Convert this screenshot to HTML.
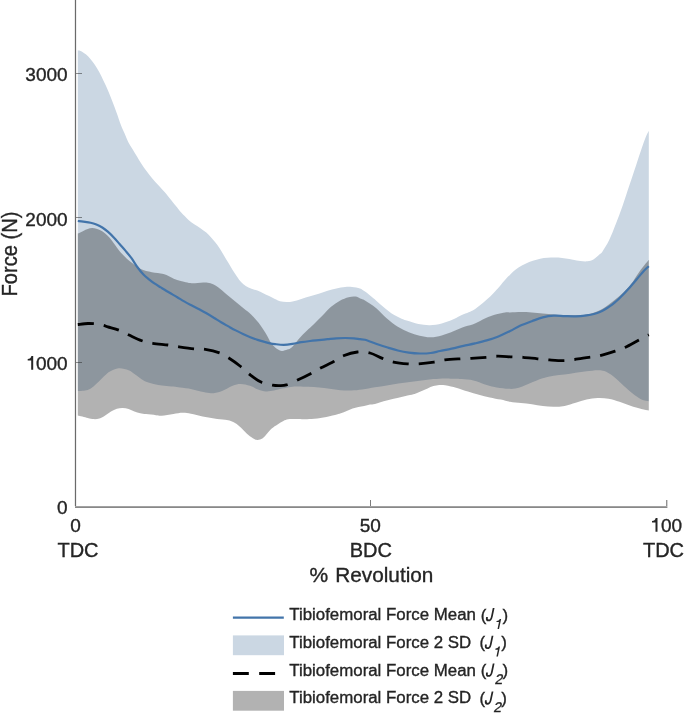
<!DOCTYPE html>
<html><head><meta charset="utf-8"><style>
html,body{margin:0;padding:0;background:#fff;}
body{width:685px;height:713px;overflow:hidden;font-family:"Liberation Sans",sans-serif;}
svg{display:block;will-change:transform;}
</style></head><body>
<svg width="685" height="713" viewBox="0 0 685 713">
<path d="M77.80 50.30C78.45 50.48 80.32 50.68 81.70 51.40C83.08 52.12 84.65 53.33 86.10 54.60C87.55 55.87 88.95 57.30 90.40 59.00C91.85 60.70 93.33 62.62 94.80 64.80C96.27 66.98 97.73 69.42 99.20 72.10C100.67 74.78 102.13 77.85 103.60 80.90C105.07 83.95 106.55 87.00 108.00 90.40C109.45 93.80 110.85 97.53 112.30 101.30C113.75 105.07 115.27 109.05 116.70 113.00C118.13 116.95 119.58 121.57 120.90 125.00C122.22 128.43 123.38 130.78 124.60 133.60C125.82 136.42 126.87 139.30 128.20 141.90C129.53 144.50 131.13 146.77 132.60 149.20C134.07 151.63 135.53 154.07 137.00 156.50C138.47 158.93 139.82 161.37 141.40 163.80C142.98 166.23 144.68 168.67 146.50 171.10C148.32 173.53 150.23 175.97 152.30 178.40C154.37 180.83 156.70 183.27 158.90 185.70C161.10 188.13 163.43 190.57 165.50 193.00C167.57 195.43 169.35 197.87 171.30 200.30C173.25 202.73 175.75 205.78 177.20 207.60C178.65 209.42 178.80 209.83 180.00 211.20C181.20 212.57 182.93 214.30 184.40 215.80C185.87 217.30 187.10 218.73 188.80 220.20C190.50 221.67 192.67 223.27 194.60 224.60C196.53 225.93 198.45 226.87 200.40 228.20C202.35 229.53 204.58 231.13 206.30 232.60C208.02 234.07 209.25 235.42 210.70 237.00C212.15 238.58 213.55 240.27 215.00 242.10C216.45 243.93 217.93 245.80 219.40 248.00C220.87 250.20 222.33 252.87 223.80 255.30C225.27 257.73 226.73 260.17 228.20 262.60C229.67 265.03 231.15 267.60 232.60 269.90C234.05 272.20 235.45 274.33 236.90 276.40C238.35 278.47 239.83 280.72 241.30 282.30C242.77 283.88 244.00 284.82 245.70 285.90C247.40 286.98 249.55 288.02 251.50 288.80C253.45 289.58 255.45 289.87 257.40 290.60C259.35 291.33 261.25 292.28 263.20 293.20C265.15 294.12 267.15 295.12 269.10 296.10C271.05 297.08 273.08 298.25 274.90 299.10C276.72 299.95 278.07 300.72 280.00 301.20C281.93 301.68 284.40 301.95 286.50 302.00C288.60 302.05 290.13 302.02 292.60 301.50C295.07 300.98 298.38 299.77 301.30 298.90C304.22 298.03 307.18 297.17 310.10 296.30C313.02 295.43 315.88 294.63 318.80 293.70C321.72 292.77 324.67 291.58 327.60 290.70C330.53 289.82 333.48 289.02 336.40 288.40C339.32 287.78 342.48 287.23 345.10 287.00C347.72 286.77 349.62 286.77 352.10 287.00C354.58 287.23 357.85 287.63 360.00 288.40C362.15 289.17 362.33 289.60 365.00 291.60C367.67 293.60 373.07 297.95 376.00 300.40C378.93 302.85 380.53 304.55 382.60 306.30C384.67 308.05 386.47 309.45 388.40 310.90C390.33 312.35 392.25 313.82 394.20 315.00C396.15 316.18 398.02 317.07 400.10 318.00C402.18 318.93 403.65 319.60 406.70 320.60C409.75 321.60 414.52 323.23 418.40 324.00C422.28 324.77 426.12 325.30 430.00 325.20C433.88 325.10 437.80 324.40 441.70 323.40C445.60 322.40 449.77 320.72 453.40 319.20C457.03 317.68 460.72 315.55 463.50 314.30C466.28 313.05 468.15 312.58 470.10 311.70C472.05 310.82 473.50 310.10 475.20 309.00C476.90 307.90 478.60 306.48 480.30 305.10C482.00 303.72 483.70 302.18 485.40 300.70C487.10 299.22 488.78 297.87 490.50 296.20C492.22 294.53 494.12 292.42 495.70 290.70C497.28 288.98 498.42 287.73 500.00 285.90C501.58 284.07 503.48 281.60 505.20 279.70C506.92 277.80 508.60 276.17 510.30 274.50C512.00 272.83 513.47 271.18 515.40 269.70C517.33 268.22 519.60 266.87 521.90 265.60C524.20 264.33 526.77 263.08 529.20 262.10C531.63 261.12 534.07 260.40 536.50 259.70C538.93 259.00 541.37 258.28 543.80 257.90C546.23 257.52 548.67 257.45 551.10 257.40C553.53 257.35 555.97 257.40 558.40 257.60C560.83 257.80 563.27 258.23 565.70 258.60C568.13 258.97 570.57 259.38 573.00 259.80C575.43 260.22 577.87 260.85 580.30 261.10C582.73 261.35 585.42 261.57 587.60 261.30C589.78 261.03 591.33 260.70 593.40 259.50C595.47 258.30 598.48 255.43 600.00 254.10C601.52 252.77 600.97 253.85 602.50 251.50C604.03 249.15 606.95 244.68 609.20 240.00C611.45 235.32 613.75 229.17 616.00 223.40C618.25 217.63 620.47 211.77 622.70 205.40C624.93 199.03 627.15 191.95 629.40 185.20C631.65 178.45 634.13 171.08 636.20 164.90C638.27 158.72 640.25 152.62 641.80 148.10C643.35 143.58 644.33 140.68 645.50 137.80C646.67 134.92 648.25 131.97 648.80 130.80L648.80 401.30C647.57 401.02 644.10 400.88 641.40 399.60C638.70 398.32 635.52 395.87 632.60 393.60C629.68 391.33 627.18 388.92 623.90 386.00C620.62 383.08 616.18 378.58 612.90 376.10C609.62 373.62 606.75 372.08 604.20 371.10C601.65 370.12 600.53 370.17 597.60 370.20C594.67 370.23 590.25 370.87 586.60 371.30C582.95 371.73 579.35 372.25 575.70 372.80C572.05 373.35 568.35 374.12 564.70 374.60C561.05 375.08 557.45 375.10 553.80 375.70C550.15 376.30 546.77 376.95 542.80 378.20C538.83 379.45 533.40 381.83 530.00 383.20C526.60 384.57 524.83 385.52 522.40 386.40C519.97 387.28 517.73 388.10 515.40 388.50C513.07 388.90 511.52 388.97 508.40 388.80C505.28 388.63 500.60 388.23 496.70 387.50C492.80 386.77 488.88 385.57 485.00 384.40C481.12 383.23 477.28 381.38 473.40 380.50C469.52 379.62 464.77 379.38 461.70 379.10C458.63 378.82 457.77 378.92 455.00 378.80C452.23 378.68 448.70 378.35 445.10 378.40C441.50 378.45 437.30 378.75 433.40 379.10C429.50 379.45 425.60 380.02 421.70 380.50C417.80 380.98 413.88 381.52 410.00 382.00C406.12 382.48 402.28 382.83 398.40 383.40C394.52 383.97 390.60 384.75 386.70 385.40C382.80 386.05 379.07 386.62 375.00 387.30C370.93 387.98 366.23 388.97 362.30 389.50C358.37 390.03 355.05 390.38 351.40 390.50C347.75 390.62 344.05 390.50 340.40 390.20C336.75 389.90 333.07 389.15 329.50 388.70C325.93 388.25 322.52 387.82 319.00 387.50C315.48 387.18 311.90 386.98 308.40 386.80C304.90 386.62 300.92 386.38 298.00 386.40C295.08 386.42 293.57 386.53 290.90 386.90C288.23 387.27 284.82 387.98 282.00 388.60C279.18 389.22 276.67 390.12 274.00 390.60C271.33 391.08 268.67 391.67 266.00 391.50C263.33 391.33 260.67 390.55 258.00 389.60C255.33 388.65 252.88 386.75 250.00 385.80C247.12 384.85 243.60 383.92 240.70 383.90C237.80 383.88 235.90 384.43 232.60 385.70C229.30 386.97 224.42 390.23 220.90 391.50C217.38 392.77 214.42 393.20 211.50 393.30C208.58 393.40 206.70 392.78 203.40 392.10C200.10 391.42 195.60 389.95 191.70 389.20C187.80 388.45 183.03 388.03 180.00 387.60C176.97 387.17 176.17 386.92 173.50 386.60C170.83 386.28 166.92 386.03 164.00 385.70C161.08 385.37 158.98 385.27 156.00 384.60C153.02 383.93 148.73 382.77 146.10 381.70C143.47 380.63 142.15 379.47 140.20 378.20C138.25 376.93 136.33 375.43 134.40 374.10C132.47 372.77 131.20 371.17 128.60 370.20C126.00 369.23 121.90 368.10 118.80 368.30C115.70 368.50 112.27 370.23 110.00 371.40C107.73 372.57 106.97 373.68 105.20 375.30C103.43 376.92 101.35 379.25 99.40 381.10C97.45 382.95 95.45 384.93 93.50 386.40C91.55 387.87 90.32 389.13 87.70 389.90C85.08 390.67 79.45 390.82 77.80 391.00Z" fill="#cbd7e3"/>
<path d="M77.80 233.60C78.72 233.15 81.65 231.67 83.30 230.90C84.95 230.13 86.23 229.48 87.70 229.00C89.17 228.52 90.65 228.05 92.10 228.00C93.55 227.95 94.95 228.30 96.40 228.70C97.85 229.10 99.33 229.62 100.80 230.40C102.27 231.18 103.73 232.18 105.20 233.40C106.67 234.62 108.13 236.00 109.60 237.70C111.07 239.40 112.55 241.65 114.00 243.60C115.45 245.55 116.85 247.58 118.30 249.40C119.75 251.22 121.23 252.92 122.70 254.50C124.17 256.08 125.63 257.55 127.10 258.90C128.57 260.25 129.80 261.27 131.50 262.60C133.20 263.93 135.35 265.68 137.30 266.90C139.25 268.12 141.25 269.12 143.20 269.90C145.15 270.68 147.07 271.12 149.00 271.60C150.93 272.08 152.85 272.48 154.80 272.80C156.75 273.12 158.75 273.13 160.70 273.50C162.65 273.87 164.55 274.27 166.50 275.00C168.45 275.73 170.48 277.02 172.40 277.90C174.32 278.78 175.77 279.57 178.00 280.30C180.23 281.03 183.52 281.80 185.80 282.30C188.08 282.80 189.75 283.18 191.70 283.30C193.65 283.42 195.55 283.12 197.50 283.00C199.45 282.88 201.45 282.60 203.40 282.60C205.35 282.60 207.33 282.62 209.20 283.00C211.07 283.38 212.48 283.70 214.60 284.90C216.72 286.10 219.47 288.25 221.90 290.20C224.33 292.15 226.77 294.53 229.20 296.60C231.63 298.67 234.07 300.60 236.50 302.60C238.93 304.60 241.37 306.62 243.80 308.60C246.23 310.58 248.67 312.17 251.10 314.50C253.53 316.83 255.97 319.48 258.40 322.60C260.83 325.72 263.52 329.70 265.70 333.20C267.88 336.70 269.65 341.00 271.50 343.60C273.35 346.20 275.05 347.58 276.80 348.80C278.55 350.02 280.25 350.77 282.00 350.90C283.75 351.03 285.65 350.22 287.30 349.60C288.95 348.98 289.92 349.07 291.90 347.20C293.88 345.33 296.77 341.10 299.20 338.40C301.63 335.70 304.07 333.37 306.50 331.00C308.93 328.63 311.17 326.73 313.80 324.20C316.43 321.67 319.42 318.70 322.30 315.80C325.18 312.90 328.17 309.32 331.10 306.80C334.03 304.28 336.98 302.30 339.90 300.70C342.82 299.10 345.98 297.88 348.60 297.20C351.22 296.52 353.68 296.40 355.60 296.60C357.52 296.80 358.53 297.77 360.10 298.40C361.67 299.03 362.35 298.80 365.00 300.40C367.65 302.00 372.35 304.98 376.00 308.00C379.65 311.02 383.27 315.37 386.90 318.50C390.53 321.63 394.15 324.52 397.80 326.80C401.45 329.08 405.15 330.70 408.80 332.20C412.45 333.70 416.05 334.95 419.70 335.80C423.35 336.65 427.03 337.37 430.70 337.30C434.37 337.23 437.92 336.42 441.70 335.40C445.48 334.38 449.50 332.67 453.40 331.20C457.30 329.73 461.50 327.90 465.10 326.60C468.70 325.30 471.62 324.80 475.00 323.40C478.38 322.00 481.83 319.73 485.40 318.20C488.97 316.67 493.12 315.17 496.40 314.20C499.68 313.23 502.83 312.70 505.10 312.40C507.37 312.10 507.37 312.47 510.00 312.40C512.63 312.33 517.25 312.00 520.90 312.00C524.55 312.00 528.25 312.15 531.90 312.40C535.55 312.65 539.15 313.13 542.80 313.50C546.45 313.87 550.15 314.30 553.80 314.60C557.45 314.90 561.05 315.18 564.70 315.30C568.35 315.42 572.05 315.42 575.70 315.30C579.35 315.18 582.95 315.27 586.60 314.60C590.25 313.93 593.95 312.95 597.60 311.30C601.25 309.65 604.85 307.25 608.50 304.70C612.15 302.15 615.85 299.28 619.50 296.00C623.15 292.72 627.12 289.02 630.40 285.00C633.68 280.98 636.13 276.10 639.20 271.90C642.27 267.70 647.20 261.82 648.80 259.80L648.80 410.50C647.57 410.25 644.47 409.80 641.40 409.00C638.33 408.20 634.05 406.90 630.40 405.70C626.75 404.50 623.15 402.97 619.50 401.80C615.85 400.63 612.15 399.33 608.50 398.70C604.85 398.07 601.25 397.85 597.60 398.00C593.95 398.15 590.25 398.80 586.60 399.60C582.95 400.40 579.35 401.75 575.70 402.80C572.05 403.85 568.35 405.23 564.70 405.90C561.05 406.57 557.45 406.77 553.80 406.80C550.15 406.83 546.45 406.53 542.80 406.10C539.15 405.67 535.55 404.70 531.90 404.20C528.25 403.70 524.55 403.50 520.90 403.10C517.25 402.70 513.35 402.38 510.00 401.80C506.65 401.22 504.17 400.33 500.80 399.60C497.43 398.87 493.45 398.22 489.80 397.40C486.15 396.58 482.55 395.68 478.90 394.70C475.25 393.72 471.55 392.63 467.90 391.50C464.25 390.37 459.83 388.75 457.00 387.90C454.17 387.05 452.88 386.85 450.90 386.40C448.92 385.95 447.05 385.43 445.10 385.20C443.15 384.97 441.15 384.85 439.20 385.00C437.25 385.15 435.33 385.52 433.40 386.10C431.47 386.68 429.55 387.68 427.60 388.50C425.65 389.32 423.65 390.18 421.70 391.00C419.75 391.82 417.85 392.72 415.90 393.40C413.95 394.08 412.92 394.37 410.00 395.10C407.08 395.83 402.28 396.88 398.40 397.80C394.52 398.72 390.60 399.58 386.70 400.60C382.80 401.62 377.78 403.25 375.00 403.90C372.22 404.55 371.80 404.17 370.00 404.50C368.20 404.83 366.13 405.47 364.20 405.90C362.27 406.33 360.33 406.65 358.40 407.10C356.47 407.55 354.55 407.95 352.60 408.60C350.65 409.25 348.65 410.22 346.70 411.00C344.75 411.78 342.85 412.63 340.90 413.30C338.95 413.97 337.92 414.28 335.00 415.00C332.08 415.72 327.28 416.92 323.40 417.60C319.52 418.28 315.27 418.83 311.70 419.10C308.13 419.37 304.77 419.20 302.00 419.20C299.23 419.20 297.42 419.08 295.10 419.10C292.78 419.12 290.05 418.98 288.10 419.30C286.15 419.62 285.15 420.13 283.40 421.00C281.65 421.87 279.55 423.23 277.60 424.50C275.65 425.77 273.65 426.85 271.70 428.60C269.75 430.35 267.45 433.35 265.90 435.00C264.35 436.65 263.77 437.68 262.40 438.50C261.03 439.32 259.07 439.80 257.70 439.90C256.33 440.00 255.75 439.92 254.20 439.10C252.65 438.28 250.35 436.65 248.40 435.00C246.45 433.35 244.45 431.03 242.50 429.20C240.55 427.37 238.65 425.37 236.70 424.00C234.75 422.63 232.75 421.70 230.80 421.00C228.85 420.30 227.77 420.23 225.00 419.80C222.23 419.37 217.93 418.95 214.20 418.40C210.47 417.85 206.48 417.28 202.60 416.50C198.72 415.72 194.22 414.32 190.90 413.70C187.58 413.08 185.62 412.77 182.70 412.80C179.78 412.83 176.90 413.42 173.40 413.90C169.90 414.38 164.60 415.48 161.70 415.70C158.80 415.92 158.60 415.47 156.00 415.20C153.40 414.93 148.73 414.43 146.10 414.10C143.47 413.77 142.15 413.63 140.20 413.20C138.25 412.77 136.33 412.18 134.40 411.50C132.47 410.82 130.55 409.68 128.60 409.10C126.65 408.52 124.65 408.05 122.70 408.00C120.75 407.95 118.85 408.22 116.90 408.80C114.95 409.38 112.95 410.38 111.00 411.50C109.05 412.62 107.13 414.33 105.20 415.50C103.27 416.67 101.35 417.90 99.40 418.50C97.45 419.10 95.45 419.20 93.50 419.10C91.55 419.00 90.32 418.50 87.70 417.90C85.08 417.30 79.45 415.90 77.80 415.50Z" fill="#000" fill-opacity="0.3"/>
<path d="M77.80 221.00C78.72 221.12 81.17 221.40 83.30 221.70C85.43 222.00 88.42 222.32 90.60 222.80C92.78 223.28 94.45 223.82 96.40 224.60C98.35 225.38 100.35 226.28 102.30 227.50C104.25 228.72 106.15 230.20 108.10 231.90C110.05 233.60 112.05 235.63 114.00 237.70C115.95 239.77 117.87 242.10 119.80 244.30C121.73 246.50 123.65 248.58 125.60 250.90C127.55 253.22 129.55 255.52 131.50 258.20C133.45 260.88 135.35 264.33 137.30 267.00C139.25 269.67 141.25 272.15 143.20 274.20C145.15 276.25 147.07 277.72 149.00 279.30C150.93 280.88 152.85 282.35 154.80 283.70C156.75 285.05 158.75 286.18 160.70 287.40C162.65 288.62 164.55 289.83 166.50 291.00C168.45 292.17 170.60 293.37 172.40 294.40C174.20 295.43 175.27 296.00 177.30 297.20C179.33 298.40 182.17 300.22 184.60 301.60C187.03 302.98 189.47 304.23 191.90 305.50C194.33 306.77 196.77 307.90 199.20 309.20C201.63 310.50 204.07 311.88 206.50 313.30C208.93 314.72 211.37 316.20 213.80 317.70C216.23 319.20 218.67 320.85 221.10 322.30C223.53 323.75 225.97 325.05 228.40 326.40C230.83 327.75 233.27 329.13 235.70 330.40C238.13 331.67 240.57 332.87 243.00 334.00C245.43 335.13 247.87 336.22 250.30 337.20C252.73 338.18 255.17 339.10 257.60 339.90C260.03 340.70 262.83 341.43 264.90 342.00C266.97 342.57 268.32 342.95 270.00 343.30C271.68 343.65 272.70 343.85 275.00 344.10C277.30 344.35 280.87 344.83 283.80 344.80C286.73 344.77 289.68 344.33 292.60 343.90C295.52 343.47 298.38 342.68 301.30 342.20C304.22 341.72 307.18 341.35 310.10 341.00C313.02 340.65 315.88 340.40 318.80 340.10C321.72 339.80 324.67 339.50 327.60 339.20C330.53 338.90 333.48 338.50 336.40 338.30C339.32 338.10 342.18 338.00 345.10 338.00C348.02 338.00 351.42 338.10 353.90 338.30C356.38 338.50 358.15 338.95 360.00 339.20C361.85 339.45 362.33 339.05 365.00 339.80C367.67 340.55 372.35 342.45 376.00 343.70C379.65 344.95 383.27 346.17 386.90 347.30C390.53 348.43 394.15 349.62 397.80 350.50C401.45 351.38 405.15 352.10 408.80 352.60C412.45 353.10 416.05 353.43 419.70 353.50C423.35 353.57 427.32 353.42 430.70 353.00C434.08 352.58 436.50 351.73 440.00 351.00C443.50 350.27 447.80 349.45 451.70 348.60C455.60 347.75 459.52 346.77 463.40 345.90C467.28 345.03 471.12 344.32 475.00 343.40C478.88 342.48 482.80 341.57 486.70 340.40C490.60 339.23 494.50 337.95 498.40 336.40C502.30 334.85 506.50 332.87 510.10 331.10C513.70 329.33 516.37 327.45 520.00 325.80C523.63 324.15 528.10 322.60 531.90 321.20C535.70 319.80 539.15 318.32 542.80 317.40C546.45 316.48 550.15 315.92 553.80 315.70C557.45 315.48 561.05 316.00 564.70 316.10C568.35 316.20 572.05 316.43 575.70 316.30C579.35 316.17 583.40 315.73 586.60 315.30C589.80 314.87 592.70 314.25 594.90 313.70C597.10 313.15 598.17 312.70 599.80 312.00C601.43 311.30 603.07 310.43 604.70 309.50C606.33 308.57 607.95 307.55 609.60 306.40C611.25 305.25 612.95 303.97 614.60 302.60C616.25 301.23 617.87 299.75 619.50 298.20C621.13 296.65 622.77 295.02 624.40 293.30C626.03 291.58 627.67 289.73 629.30 287.90C630.93 286.07 632.57 284.22 634.20 282.30C635.83 280.38 637.47 278.33 639.10 276.40C640.73 274.47 642.38 272.40 644.00 270.70C645.62 269.00 648.00 266.95 648.80 266.20" fill="none" stroke="#4274aa" stroke-width="2.2" stroke-linejoin="round"/>
<path d="M77.80 324.50C79.50 324.33 84.82 323.58 88.00 323.50C91.18 323.42 94.32 323.70 96.90 324.00C99.48 324.30 101.68 324.82 103.50 325.30C105.32 325.78 105.25 326.10 107.80 326.90C110.35 327.70 115.27 328.75 118.80 330.10C122.33 331.45 125.17 333.23 129.00 335.00C132.83 336.77 137.85 339.32 141.80 340.70C145.75 342.08 148.32 342.58 152.70 343.30C157.08 344.02 163.72 344.42 168.10 345.00C172.48 345.58 174.63 346.17 179.00 346.80C183.37 347.43 189.92 348.37 194.30 348.80C198.68 349.23 201.10 348.72 205.30 349.40C209.50 350.08 215.58 351.47 219.50 352.90C223.42 354.33 225.38 355.82 228.80 358.00C232.22 360.18 236.38 363.15 240.00 366.00C243.62 368.85 247.00 372.42 250.50 375.10C254.00 377.78 257.35 380.43 261.00 382.10C264.65 383.77 269.32 384.52 272.40 385.10C275.48 385.68 277.17 385.63 279.50 385.60C281.83 385.57 283.50 385.77 286.40 384.90C289.30 384.03 292.80 382.32 296.90 380.40C301.00 378.48 307.05 375.45 311.00 373.40C314.95 371.35 316.82 370.08 320.60 368.10C324.38 366.12 329.90 363.55 333.70 361.50C337.50 359.45 339.45 357.38 343.40 355.80C347.35 354.22 352.97 352.47 357.40 352.00C361.83 351.53 365.82 351.93 370.00 353.00C374.18 354.07 378.58 356.88 382.50 358.40C386.42 359.92 389.30 361.18 393.50 362.10C397.70 363.02 403.52 363.60 407.70 363.90C411.88 364.20 414.22 364.20 418.60 363.90C422.98 363.60 429.62 362.77 434.00 362.10C438.38 361.43 440.52 360.45 444.90 359.90C449.28 359.35 455.92 359.05 460.30 358.80C464.68 358.55 466.83 358.65 471.20 358.40C475.57 358.15 482.12 357.67 486.50 357.30C490.88 356.93 493.30 356.27 497.50 356.20C501.70 356.13 507.43 356.72 511.70 356.90C515.97 357.08 518.82 356.98 523.10 357.30C527.38 357.62 533.02 358.37 537.40 358.80C541.78 359.23 545.03 359.60 549.40 359.90C553.77 360.20 559.40 360.67 563.60 360.60C567.80 360.53 570.40 360.05 574.60 359.50C578.80 358.95 584.60 357.92 588.80 357.30C593.00 356.68 595.42 356.82 599.80 355.80C604.18 354.78 610.90 352.60 615.10 351.20C619.30 349.80 620.98 349.30 625.00 347.40C629.02 345.50 635.23 341.90 639.20 339.80C643.17 337.70 647.20 335.63 648.80 334.80" fill="none" stroke="#000" stroke-width="2.8" stroke-dasharray="15.9 10.16"/>
<rect x="74" y="0" width="1" height="506" fill="#ebebeb"/>
<rect x="75" y="0" width="1" height="507" fill="#6a6a6a"/>
<rect x="76" y="0" width="1" height="506" fill="#efefef"/>
<rect x="75" y="506" width="592.4" height="1" fill="#a2a2a2"/>
<rect x="75" y="507" width="592.4" height="1" fill="#888888"/>
<rect x="76" y="73" width="6" height="1" fill="#262626" fill-opacity="0.5"/>
<rect x="76" y="217" width="6" height="1" fill="#262626" fill-opacity="0.5"/>
<rect x="76" y="362" width="6" height="1" fill="#262626" fill-opacity="0.5"/>
<rect x="370" y="500" width="1" height="6" fill="#262626" fill-opacity="0.6"/>
<rect x="666" y="500" width="1.4" height="6" fill="#262626" fill-opacity="0.5"/>
<text x="67.6" y="81.1" text-anchor="end" font-family="Liberation Sans, sans-serif" stroke="#1e1e1e" stroke-width="0.35" font-size="19" fill="#262626">3000</text>
<text x="67.6" y="226.0" text-anchor="end" font-family="Liberation Sans, sans-serif" stroke="#1e1e1e" stroke-width="0.35" font-size="19" fill="#262626">2000</text>
<text x="67.6" y="369.8" text-anchor="end" font-family="Liberation Sans, sans-serif" stroke="#1e1e1e" stroke-width="0.35" font-size="19" fill="#262626">000</text>
<text x="67.6" y="514.2" text-anchor="end" font-family="Liberation Sans, sans-serif" stroke="#1e1e1e" stroke-width="0.35" font-size="19" fill="#262626">0</text>
<path d="M33.2 356.1V369.8H31.2V360.6H27.7V359.0C29.7 358.9 31.0 358.0 31.4 356.1Z" fill="#262626"/>
<text x="75.5" y="531.9" text-anchor="middle" font-family="Liberation Sans, sans-serif" stroke="#1e1e1e" stroke-width="0.35" font-size="19" fill="#262626">0</text>
<text x="370.3" y="531.9" text-anchor="middle" font-family="Liberation Sans, sans-serif" stroke="#1e1e1e" stroke-width="0.35" font-size="19" fill="#262626">50</text>
<text x="682.05" y="531.9" text-anchor="end" font-family="Liberation Sans, sans-serif" stroke="#1e1e1e" stroke-width="0.35" font-size="19" fill="#262626">00</text>
<path transform="translate(624.3 162.0)" d="M33.2 356.1V369.8H31.2V360.6H27.7V359.0C29.7 358.9 31.0 358.0 31.4 356.1Z" fill="#262626"/>
<text x="78" y="556.7" text-anchor="middle" font-family="Liberation Sans, sans-serif" stroke="#1e1e1e" stroke-width="0.35" font-size="20" fill="#262626">TDC</text>
<text x="370.9" y="556.7" text-anchor="middle" font-family="Liberation Sans, sans-serif" stroke="#1e1e1e" stroke-width="0.35" font-size="20" fill="#262626">BDC</text>
<text x="663.5" y="556.7" text-anchor="middle" font-family="Liberation Sans, sans-serif" stroke="#1e1e1e" stroke-width="0.35" font-size="20" fill="#262626">TDC</text>
<text x="309.6" y="582.1" font-family="Liberation Sans, sans-serif" stroke="#1e1e1e" stroke-width="0.35" font-size="21" fill="#262626">%</text>
<text x="335.3" y="582.1" font-family="Liberation Sans, sans-serif" stroke="#1e1e1e" stroke-width="0.35" font-size="20.75" fill="#262626">Revolution</text>
<text transform="translate(17.1 254.0) rotate(-90) scale(0.96 1.05)" text-anchor="middle" font-family="Liberation Sans, sans-serif" stroke="#1e1e1e" stroke-width="0.35" font-size="21" fill="#262626">Force (N)</text>
<path d="M232.9 617.6H283.8" stroke="#4274aa" stroke-width="2.2"/>
<rect x="232.9" y="635.4" width="51.1" height="19.8" fill="#cbd7e3"/>
<path d="M232.9 673.5H283.8" stroke="#000" stroke-width="2.8" stroke-dasharray="15.9 10.4"/>
<rect x="232.9" y="690.9" width="51.1" height="19.8" fill="#000" fill-opacity="0.3"/>
<text x="289.3" y="620.1" font-family="Liberation Sans, sans-serif" stroke="#1e1e1e" stroke-width="0.35" font-size="16.85" fill="#262626">Tibiofemoral Force Mean</text>
<text transform="translate(480.70 607.80) scale(1 1.03)" x="0" y="12.6" font-family="Liberation Sans, sans-serif" stroke="#1e1e1e" stroke-width="0.35" font-size="16.85" fill="#262626">(</text>
<text transform="translate(502.40 607.80) scale(1 1.03)" x="0" y="12.6" font-family="Liberation Sans, sans-serif" stroke="#1e1e1e" stroke-width="0.35" font-size="16.85" fill="#262626">)</text>
<g transform="translate(0 620.1) skewX(-12)"><path d="M491.1 -12.0V-3.4C491.1 -0.8 490.10 0.4 488.60 0.4C487.10 0.4 486.30 -0.6 486.30 -3.2" fill="none" stroke="#262626" stroke-width="1.75"/><path transform="translate(499.4 8.8) scale(0.74)" d="M2.0 -13.5V0H0V-9.2H-3.5V-10.8C-1.5 -10.9 -0.2 -11.8 0.2 -13.5Z" fill="#262626"/></g>
<text x="289.3" y="647.8" font-family="Liberation Sans, sans-serif" stroke="#1e1e1e" stroke-width="0.35" font-size="16.85" fill="#262626">Tibiofemoral Force 2 SD</text>
<text transform="translate(479.60 635.50) scale(1 1.03)" x="0" y="12.6" font-family="Liberation Sans, sans-serif" stroke="#1e1e1e" stroke-width="0.35" font-size="16.85" fill="#262626">(</text>
<text transform="translate(501.30 635.50) scale(1 1.03)" x="0" y="12.6" font-family="Liberation Sans, sans-serif" stroke="#1e1e1e" stroke-width="0.35" font-size="16.85" fill="#262626">)</text>
<g transform="translate(-1.1 647.8) skewX(-12)"><path d="M491.1 -12.0V-3.4C491.1 -0.8 490.10 0.4 488.60 0.4C487.10 0.4 486.30 -0.6 486.30 -3.2" fill="none" stroke="#262626" stroke-width="1.75"/><path transform="translate(499.4 8.8) scale(0.74)" d="M2.0 -13.5V0H0V-9.2H-3.5V-10.8C-1.5 -10.9 -0.2 -11.8 0.2 -13.5Z" fill="#262626"/></g>
<text x="289.3" y="675.6" font-family="Liberation Sans, sans-serif" stroke="#1e1e1e" stroke-width="0.35" font-size="16.85" fill="#262626">Tibiofemoral Force Mean</text>
<text transform="translate(480.70 663.30) scale(1 1.03)" x="0" y="12.6" font-family="Liberation Sans, sans-serif" stroke="#1e1e1e" stroke-width="0.35" font-size="16.85" fill="#262626">(</text>
<text transform="translate(502.40 663.30) scale(1 1.03)" x="0" y="12.6" font-family="Liberation Sans, sans-serif" stroke="#1e1e1e" stroke-width="0.35" font-size="16.85" fill="#262626">)</text>
<g transform="translate(0 675.6) skewX(-12)"><path d="M491.1 -12.0V-3.4C491.1 -0.8 490.10 0.4 488.60 0.4C487.10 0.4 486.30 -0.6 486.30 -3.2" fill="none" stroke="#262626" stroke-width="1.75"/><text x="496.3" y="8.8" font-family="Liberation Sans, sans-serif" stroke="#1e1e1e" stroke-width="0.35" font-size="14" fill="#262626">2</text></g>
<text x="289.3" y="703.4" font-family="Liberation Sans, sans-serif" stroke="#1e1e1e" stroke-width="0.35" font-size="16.85" fill="#262626">Tibiofemoral Force 2 SD</text>
<text transform="translate(479.60 691.10) scale(1 1.03)" x="0" y="12.6" font-family="Liberation Sans, sans-serif" stroke="#1e1e1e" stroke-width="0.35" font-size="16.85" fill="#262626">(</text>
<text transform="translate(501.30 691.10) scale(1 1.03)" x="0" y="12.6" font-family="Liberation Sans, sans-serif" stroke="#1e1e1e" stroke-width="0.35" font-size="16.85" fill="#262626">)</text>
<g transform="translate(-1.1 703.4) skewX(-12)"><path d="M491.1 -12.0V-3.4C491.1 -0.8 490.10 0.4 488.60 0.4C487.10 0.4 486.30 -0.6 486.30 -3.2" fill="none" stroke="#262626" stroke-width="1.75"/><text x="496.3" y="8.8" font-family="Liberation Sans, sans-serif" stroke="#1e1e1e" stroke-width="0.35" font-size="14" fill="#262626">2</text></g>
</svg>
</body></html>
